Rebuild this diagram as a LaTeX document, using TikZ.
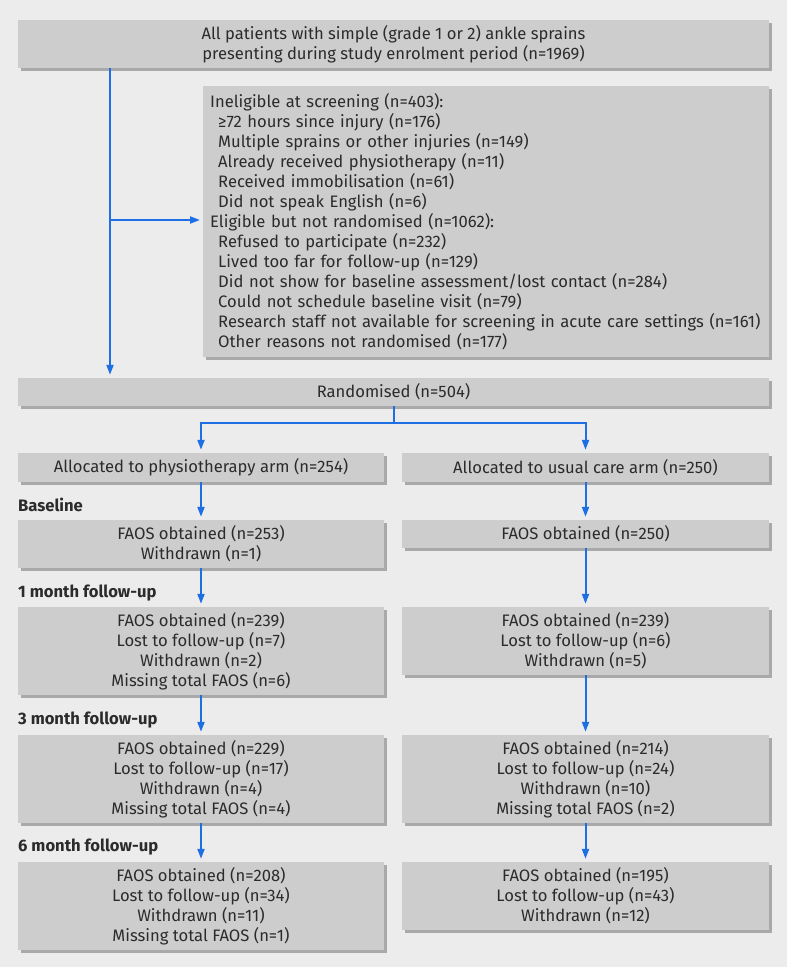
\documentclass[tikz,border=0pt]{standalone}
\usepackage{fontspec}
\setmainfont{Fira Sans}
\usetikzlibrary{arrows.meta,calc,positioning,shadows}

\definecolor{pagegray}{HTML}{ECECEC}
\definecolor{boxgray}{HTML}{CDCDCD}
\definecolor{shadegray}{HTML}{A9A9A9}
\definecolor{flowblue}{HTML}{1E6FE3}
\definecolor{textgray}{HTML}{2B2B2B}
\newcommand{\boxfont}{\fontsize{16.6}{20}\selectfont}
\newcommand{\ind}{\hspace*{8pt}}

\tikzset{
  box/.style={fill=boxgray,text=textgray,inner sep=0pt,align=center,font=\boxfont,
    drop shadow={shadow xshift=3pt,shadow yshift=-3pt,fill=shadegray,opacity=1}},
  stage/.style={anchor=west,inner sep=0pt,text=textgray,font=\boxfont\bfseries},
  flow/.style={draw=flowblue,line width=2pt,-{Triangle[length=10pt,width=7pt]},shorten >=3pt},
  link/.style={draw=flowblue,line width=2pt}
}

\begin{document}
\begin{tikzpicture}[x=1pt,y=-1pt]
  \fill[pagegray] (0,0) rectangle (787,967);
  \useasboundingbox (0,0) rectangle (787,967);

  % screening
  \node[box,minimum width=751pt,minimum height=48pt] (all) at (393.5,44)
    {All patients with simple (grade 1 or 2) ankle sprains\\presenting during study enrolment period (n=1969)};
  \node[box,anchor=north west,text width=552pt,inner xsep=7pt,minimum height=271pt,align=left] (inel) at (203,86)
    {Ineligible at screening (n=403):\\
     \ind≥72 hours since injury (n=176)\\
     \ind Multiple sprains or other injuries (n=149)\\
     \ind Already received physiotherapy (n=11)\\
     \ind Received immobilisation (n=61)\\
     \ind Did not speak English (n=6)\\
     Eligible but not randomised (n=1062):\\
     \ind Refused to participate (n=232)\\
     \ind Lived too far for follow-up (n=129)\\
     \ind Did not show for baseline assessment/lost contact (n=284)\\
     \ind Could not schedule baseline visit (n=79)\\
     \ind Research staff not available for screening in acute care settings (n=161)\\
     \ind Other reasons not randomised (n=177)};
  \node[box,minimum width=751pt,minimum height=28pt] (rand) at (393.5,392) {Randomised (n=504)};

  % allocation
  \node[box,minimum width=366pt,minimum height=29pt] (physio) at (201,467.5) {Allocated to physiotherapy arm (n=254)};
  \node[box,minimum width=367pt,minimum height=29pt] (usual) at (585.5,467.5) {Allocated to usual care arm (n=250)};

  % follow-up stages
  \node[stage] (labbase) at (18,505) {Baseline};
  \node[box,minimum width=366pt,minimum height=48pt] (baseL) at (201,544) {FAOS obtained (n=253)\\Withdrawn (n=1)};
  \node[box,minimum width=367pt,minimum height=28pt] (baseR) at (585.5,534) {FAOS obtained (n=250)};

  \node[stage] (labone) at (18,593) {1 month follow-up};
  \node[box,minimum width=366pt,minimum height=88pt] (oneL) at (201,651)
    {FAOS obtained (n=239)\\Lost to follow-up (n=7)\\Withdrawn (n=2)\\Missing total FAOS (n=6)};
  \node[box,minimum width=367pt,minimum height=68pt] (oneR) at (585.5,641)
    {FAOS obtained (n=239)\\Lost to follow-up (n=6)\\Withdrawn (n=5)};

  \node[stage] (labthree) at (18,720) {3 month follow-up};
  \node[box,minimum width=366pt,minimum height=88pt] (threeL) at (201,779)
    {FAOS obtained (n=229)\\Lost to follow-up (n=17)\\Withdrawn (n=4)\\Missing total FAOS (n=4)};
  \node[box,minimum width=367pt,minimum height=88pt] (threeR) at (585.5,779)
    {FAOS obtained (n=214)\\Lost to follow-up (n=24)\\Withdrawn (n=10)\\Missing total FAOS (n=2)};

  \node[stage] (labsix) at (18,847) {6 month follow-up};
  \node[box,minimum width=366pt,minimum height=88pt] (sixL) at (201,906)
    {FAOS obtained (n=208)\\Lost to follow-up (n=34)\\Withdrawn (n=11)\\Missing total FAOS (n=1)};
  \node[box,minimum width=367pt,minimum height=68pt] (sixR) at (585.5,896)
    {FAOS obtained (n=195)\\Lost to follow-up (n=43)\\Withdrawn (n=12)};

  % connectors
  \coordinate (split) at (110,220);
  \coordinate (fork) at (393.5,423);
  \draw[flow] (all.south -| split) -- (rand.north -| split);
  \draw[flow] (split) -- (split -| inel.west);
  \draw[link] (rand.south) -- (fork);
  \draw[flow] (fork) -| (physio.north);
  \draw[flow] (fork) -| (usual.north);
  \foreach \a/\b in {physio/baseL,baseL/oneL,oneL/threeL,threeL/sixL,
                     usual/baseR,baseR/oneR,oneR/threeR,threeR/sixR}
    \draw[flow] (\a.south) -- (\b.north);
\end{tikzpicture}
\end{document}
